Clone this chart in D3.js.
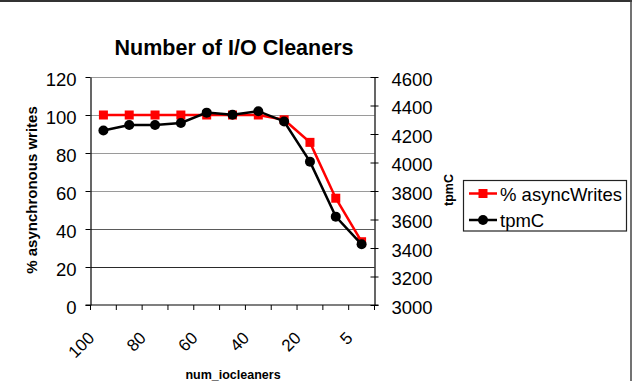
<!DOCTYPE html>
<html><head><meta charset="utf-8">
<script src="https://cdn.jsdelivr.net/npm/d3@7"></script>
<style>html,body{margin:0;padding:0;background:#fff;}svg{display:block;font-family:"Liberation Sans",Arial,sans-serif;}</style>
</head><body>
<svg id="c" width="638" height="381"></svg>
<script>
const categories = ["100","90","80","70","60","50","40","30","20","10","5"];
const tickLabels = ["100","","80","","60","","40","","20","","5"];
const asyncWrites = [100,100,100,100,100,100,100,97.5,85.6,56.2,33.3];
const tpmC = [4224,4263,4263,4277,4350,4335,4360,4288,4006,3620,3426];
const leftTicks = [0,20,40,60,80,100,120];
const rightTicks = [3000,3200,3400,3600,3800,4000,4200,4400,4600];
const seriesNames = ["% asyncWrites","tpmC"];

const svg = d3.select("#c");
const L = 90.5, R = 374.5, T = 77, B = 305;
const x = d3.scaleBand().domain(categories).range([L, R]).padding(0);
const yL = d3.scaleLinear().domain([0,120]).range([B, T]);
const yR = d3.scaleLinear().domain([3000,4600]).range([B, T]);

// outer border (top & right visible)
svg.append("line").attr("x1",0).attr("x2",632).attr("y1",1).attr("y2",1).attr("stroke","#333").attr("stroke-width",2);
svg.append("line").attr("x1",631).attr("x2",631).attr("y1",0).attr("y2",381).attr("stroke","#444").attr("stroke-width",1.5);

// gridlines
const gridColor = {120:"#9a9a9a",100:"#9a9a9a",80:"#9a9a9a",60:"#9a9a9a",40:"#5a5a5a",20:"#2a2a2a"};
svg.append("g").selectAll("line").data(leftTicks.filter(d=>d>0)).join("line")
  .attr("x1",L).attr("x2",R).attr("y1",d=>Math.round(yL(d))+0.5).attr("y2",d=>Math.round(yL(d))+0.5)
  .attr("stroke",d=>gridColor[d]).attr("stroke-width",1.2);

// left axis
const gl = svg.append("g").attr("transform",`translate(${L},0)`)
  .call(d3.axisLeft(yL).tickValues(leftTicks).tickFormat(d3.format("d")).tickSize(5).tickSizeOuter(0).tickPadding(9));
gl.select(".domain").attr("stroke","#000").attr("stroke-width",1.2);
gl.selectAll(".tick line").attr("stroke","#000");
gl.selectAll("text").attr("font-size","18.5px").attr("fill","#000").attr("dy","0.45em").attr("font-family","Liberation Sans, Arial, sans-serif");

// right axis
const gr = svg.append("g").attr("transform",`translate(${R},0)`)
  .call(d3.axisRight(yR).tickValues(rightTicks).tickFormat(d3.format("d")).tickSize(4).tickSizeOuter(0).tickPadding(13));
gr.select(".domain").attr("stroke","#000").attr("stroke-width",1.2);
gr.selectAll(".tick line").attr("stroke","#000").attr("x1",-4);
gr.selectAll("text").attr("font-size","18.5px").attr("fill","#000").attr("dy","0.45em").attr("font-family","Liberation Sans, Arial, sans-serif");

// bottom axis: ticks at band boundaries
const gb = svg.append("g").attr("transform",`translate(0,${B})`);
gb.append("line").attr("x1",L-5).attr("x2",R+4).attr("y1",0).attr("y2",0).attr("stroke","#000").attr("stroke-width",1.2);
const bounds = categories.map(c=>x(c)).concat([R]);
gb.selectAll("line.tk").data(bounds).join("line").attr("class","tk")
  .attr("x1",d=>d).attr("x2",d=>d).attr("y1",0).attr("y2",5).attr("stroke","#000");
gb.selectAll("text").data(categories).join("text")
  .attr("transform",(d,i)=>`translate(${x(d)+x.bandwidth()/2-8},${34}) rotate(-45)`)
  .attr("text-anchor","end").attr("font-size","17px").attr("fill","#000")
  .text((d,i)=>tickLabels[i]);

// series
const cx = d => x(d)+x.bandwidth()/2;
const lineA = d3.line().x((d,i)=>cx(categories[i])).y(d=>yL(d));
const lineB = d3.line().x((d,i)=>cx(categories[i])).y(d=>yR(d));
svg.append("path").datum(asyncWrites).attr("d",lineA).attr("fill","none").attr("stroke","#ff0000").attr("stroke-width",2.5);
svg.append("g").selectAll("rect").data(asyncWrites).join("rect")
  .attr("x",(d,i)=>cx(categories[i])-4.5).attr("y",d=>yL(d)-4.5).attr("width",9).attr("height",9).attr("fill","#ff0000");
svg.append("path").datum(tpmC).attr("d",lineB).attr("fill","none").attr("stroke","#000").attr("stroke-width",2.5);
svg.append("g").selectAll("circle").data(tpmC).join("circle")
  .attr("cx",(d,i)=>cx(categories[i])).attr("cy",d=>yR(d)).attr("r",5).attr("fill","#000");

// titles
svg.append("text").attr("x",234).attr("y",55).attr("text-anchor","middle")
  .attr("font-size","21.5px").attr("font-weight","bold").text("Number of I/O Cleaners");
svg.append("text").attr("transform","translate(37,190) rotate(-90)").attr("text-anchor","middle")
  .attr("font-size","15px").attr("font-weight","bold").text("% asynchronous writes");
svg.append("text").attr("transform","translate(453,190) rotate(-90)").attr("text-anchor","middle")
  .attr("font-size","12.5px").attr("font-weight","bold").text("tpmC");
svg.append("text").attr("x",233).attr("y",379).attr("text-anchor","middle")
  .attr("font-size","12.5px").attr("font-weight","bold").text("num_iocleaners");

// legend
const lg = svg.append("g");
lg.append("rect").attr("x",463.5).attr("y",180.5).attr("width",163).attr("height",50.5)
  .attr("fill","#fff").attr("stroke","#222").attr("stroke-width",1.2);
const ly = [193.5, 220];
lg.append("line").attr("x1",469).attr("x2",497).attr("y1",ly[0]).attr("y2",ly[0]).attr("stroke","#ff0000").attr("stroke-width",2.5);
lg.append("rect").attr("x",483-4.5).attr("y",ly[0]-4.5).attr("width",9).attr("height",9).attr("fill","#ff0000");
lg.append("line").attr("x1",469).attr("x2",497).attr("y1",ly[1]).attr("y2",ly[1]).attr("stroke","#000").attr("stroke-width",2.5);
lg.append("circle").attr("cx",483).attr("cy",ly[1]).attr("r",5).attr("fill","#000");
lg.selectAll("text.l").data(seriesNames).join("text").attr("class","l")
  .attr("x",500).attr("y",(d,i)=>ly[i]+7).attr("font-size","18.5px").attr("fill","#000").text(d=>d);
</script>
</body></html>
